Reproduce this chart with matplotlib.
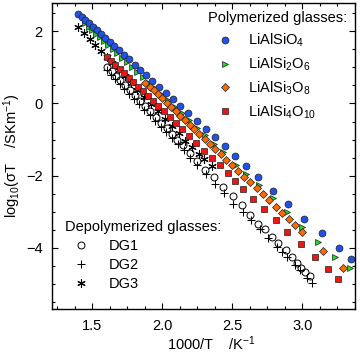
import matplotlib
matplotlib.use("Agg")
import matplotlib.pyplot as plt
from matplotlib.ticker import MultipleLocator, FormatStrFormatter

plt.rcParams['font.family'] = ['Liberation Sans', 'DejaVu Sans']
plt.rcParams['mathtext.fontset'] = 'custom'
plt.rcParams['mathtext.rm'] = 'Liberation Sans'
plt.rcParams['mathtext.it'] = 'Liberation Sans:italic'
plt.rcParams['mathtext.default'] = 'regular'

# 1000/T (K^-1) and log10(sigma T)
x_si1 = [1.400, 1.425, 1.450, 1.476, 1.503, 1.531, 1.561, 1.591, 1.623, 1.656,
         1.690, 1.726, 1.763, 1.802, 1.842, 1.885, 1.929, 1.976, 2.024, 2.076,
         2.129, 2.186, 2.246, 2.309, 2.375, 2.446, 2.521, 2.600, 2.685, 2.790,
         2.894, 3.010, 3.136, 3.260, 3.344]
y_si1 = [2.49, 2.40, 2.31, 2.22, 2.13, 2.03, 1.93, 1.82, 1.71, 1.59,
         1.47, 1.35, 1.22, 1.08, 0.94, 0.79, 0.63, 0.47, 0.30, 0.12,
         -0.07, -0.27, -0.48, -0.70, -0.93, -1.18, -1.45, -1.74, -2.05, -2.42,
         -2.79, -3.20, -3.60, -4.01, -4.32]

x_si2 = [1.450, 1.475, 1.501, 1.528, 1.556, 1.585, 1.615, 1.646, 1.678, 1.712,
         1.747, 1.784, 1.822, 1.862, 1.903, 1.946, 1.991, 2.038, 2.087, 2.138,
         2.192, 2.248, 2.307, 2.369, 2.434, 2.526, 2.600, 2.692, 2.787, 2.887,
         2.998, 3.112, 3.230, 3.337]
y_si2 = [2.22, 2.13, 2.04, 1.94, 1.84, 1.73, 1.62, 1.51, 1.39, 1.27,
         1.14, 1.01, 0.87, 0.73, 0.58, 0.42, 0.26, 0.09, -0.09, -0.27,
         -0.47, -0.67, -0.88, -1.11, -1.34, -1.70, -1.96, -2.27, -2.63, -3.00,
         -3.42, -3.84, -4.25, -4.55]

x_si3 = [1.879, 1.909, 1.939, 1.969, 1.999, 2.030, 2.062, 2.094, 2.127, 2.160,
         2.194, 2.229, 2.265, 2.302, 2.340, 2.378, 2.417, 2.457, 2.498, 2.540,
         2.583, 2.626, 2.672, 2.718, 2.764, 2.810, 2.856, 2.902, 2.948, 2.998,
         3.147, 3.290]
y_si3 = [0.58, 0.47, 0.36, 0.25, 0.14, 0.02, -0.10, -0.22, -0.34, -0.46,
         -0.59, -0.72, -0.85, -0.99, -1.13, -1.27, -1.41, -1.56, -1.71, -1.87,
         -2.03, -2.18, -2.35, -2.52, -2.69, -2.86, -3.03, -3.21, -3.38, -3.56,
         -4.09, -4.57]

x_si4 = [1.605, 1.635, 1.665, 1.696, 1.727, 1.759, 1.792, 1.826, 1.861, 1.897,
         1.934, 1.972, 2.011, 2.052, 2.094, 2.140, 2.190, 2.242, 2.294, 2.353,
         2.410, 2.465, 2.519, 2.578, 2.649, 2.728, 2.810, 2.891, 2.986, 3.088,
         3.183, 3.254]
y_si4 = [1.29, 1.18, 1.07, 0.95, 0.84, 0.72, 0.59, 0.47, 0.34, 0.20,
         0.06, -0.08, -0.22, -0.38, -0.53, -0.71, -0.89, -1.09, -1.32, -1.51,
         -1.71, -1.93, -2.14, -2.38, -2.65, -2.94, -3.24, -3.56, -3.91, -4.25,
         -4.60, -4.88]

x_dg1 = [1.607, 1.637, 1.668, 1.700, 1.733, 1.767, 1.802, 1.838, 1.875, 1.913,
         1.952, 1.991, 2.030, 2.069, 2.108, 2.147, 2.199, 2.247, 2.306, 2.365,
         2.436, 2.507, 2.567, 2.626, 2.685, 2.733, 2.780, 2.827, 2.882, 2.922,
         2.958, 2.986, 3.017, 3.053]
y_dg1 = [1.01, 0.89, 0.77, 0.64, 0.50, 0.37, 0.23, 0.08, -0.07, -0.22,
         -0.37, -0.53, -0.69, -0.84, -1.00, -1.15, -1.37, -1.60, -1.85, -2.03,
         -2.31, -2.56, -2.82, -3.08, -3.34, -3.47, -3.70, -3.86, -4.07, -4.25,
         -4.42, -4.55, -4.67, -4.79]

x_dg2 = [1.602, 1.633, 1.664, 1.696, 1.729, 1.763, 1.798, 1.834, 1.871, 1.909,
         1.948, 1.988, 2.028, 2.068, 2.110, 2.152, 2.199, 2.250, 2.312, 2.377,
         2.442, 2.507, 2.572, 2.632, 2.694, 2.756, 2.816, 2.855, 2.891, 2.946,
         2.980, 3.030, 3.065]
y_dg2 = [0.92, 0.79, 0.67, 0.54, 0.41, 0.27, 0.13, -0.02, -0.17, -0.32,
         -0.48, -0.64, -0.80, -0.96, -1.13, -1.30, -1.51, -1.70, -1.95, -2.23,
         -2.48, -2.78, -3.00, -3.24, -3.48, -3.74, -3.97, -4.12, -4.25, -4.48,
         -4.63, -4.85, -4.99]

x_dg3 = [1.400, 1.440, 1.481, 1.521, 1.561, 1.602, 1.644, 1.687, 1.731, 1.776,
         1.822, 1.869, 1.917, 1.966, 2.016, 2.067, 2.116, 2.164, 2.211, 2.258,
         2.294, 2.353]
y_dg3 = [2.12, 1.96, 1.79, 1.62, 1.46, 1.29, 1.11, 0.94, 0.76, 0.57,
         0.38, 0.19, -0.01, -0.21, -0.42, -0.63, -0.83, -1.03, -1.22, -1.41,
         -1.53, -1.74]

poly_labels = ['LiAlSiO$_4$', 'LiAlSi$_2$O$_6$', 'LiAlSi$_3$O$_8$', 'LiAlSi$_4$O$_{10}$']
depo_labels = ['DG1', 'DG2', 'DG3']

EDGE = '#202020'
ASTER = (6, 2, 0)  # six-armed asterisk like Origin's

fig = plt.figure(figsize=(3.6, 3.54), dpi=100)
ax = fig.add_axes([0.1436, 0.1271, 0.8425, 0.8658])

h_dg1, = ax.plot(x_dg1, y_dg1, ls='none', marker='o', ms=5, mfc='none', mec='black', mew=0.7)
h_dg2, = ax.plot(x_dg2, y_dg2, ls='none', marker='+', ms=6, mec='black', mew=0.75)
h_dg3, = ax.plot(x_dg3, y_dg3, ls='none', marker=ASTER, ms=6, mec='black', mew=0.8)
h2, = ax.plot(x_si2, y_si2, ls='none', marker='>', ms=5, mfc='#22DD22', mec=EDGE, mew=0.5)
h1, = ax.plot(x_si1, y_si1, ls='none', marker='o', ms=5, mfc='#2152E8', mec=EDGE, mew=0.5)
h3, = ax.plot(x_si3, y_si3, ls='none', marker='D', ms=4.2, mfc='#FF6A00', mec=EDGE, mew=0.5)
h4, = ax.plot(x_si4, y_si4, ls='none', marker='s', ms=4.2, mfc='#EE1515', mec=EDGE, mew=0.5)

ax.set_xlim(1.21, 3.375)
ax.set_ylim(-5.7, 2.8)
ax.xaxis.set_major_locator(MultipleLocator(0.5))
ax.xaxis.set_minor_locator(MultipleLocator(0.125))
ax.yaxis.set_major_locator(MultipleLocator(2))
ax.yaxis.set_minor_locator(MultipleLocator(0.5))
ax.xaxis.set_major_formatter(FormatStrFormatter('%.1f'))
ax.tick_params(which='both', direction='in', top=True, right=True, labelsize=10.5, width=0.8)
ax.tick_params(which='major', length=4.5)
ax.tick_params(which='minor', length=2.5)
ax.tick_params(axis='x', pad=7)
ax.tick_params(axis='y', pad=6.5)
for s in ax.spines.values():
    s.set_linewidth(1.0)

ax.set_xlabel('1000/T    /K$^{-1}$', fontsize=10.5)
ax.xaxis.set_label_coords(0.528, -0.083)
ax.set_ylabel('log$_{10}$(σT    /SKm$^{-1}$)', fontsize=10.5)
ax.yaxis.set_label_coords(-0.093, 0.5)

leg1 = ax.legend([h1, h2, h3, h4], poly_labels, title='Polymerized glasses:',
                 loc='upper left', bbox_to_anchor=(0.515, 0.972), frameon=False,
                 fontsize=10.5, title_fontsize=10.5, alignment='left',
                 handlelength=2.4, handletextpad=0.35, labelspacing=0.45,
                 borderpad=0, borderaxespad=0)
ax.add_artist(leg1)
ax.legend([h_dg1, h_dg2, h_dg3], depo_labels, title='Depolymerized glasses:',
          loc='upper left', bbox_to_anchor=(0.044, 0.29), frameon=False,
          fontsize=10.5, title_fontsize=10.5, alignment='left',
          handlelength=2.2, handletextpad=0.8, labelspacing=0.35,
          borderpad=0, borderaxespad=0)

fig.savefig('out.png', dpi=100)
